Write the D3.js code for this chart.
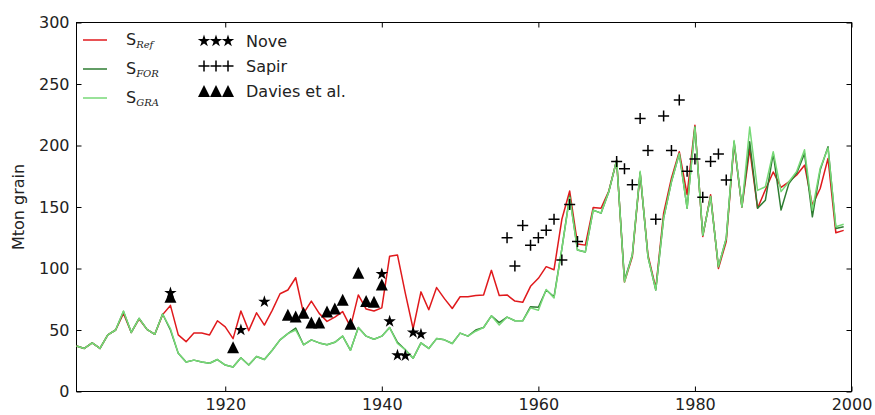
<!DOCTYPE html>
<html>
<head>
<meta charset="utf-8">
<script src="https://cdn.jsdelivr.net/npm/d3@7"></script>
<style>
  body { margin: 0; background: #fff; }
  svg text { font-family: "DejaVu Sans", sans-serif; }
</style>
</head>
<body>
<div id="chart"></div>
<script>
// data
var years = d3.range(1901, 2000);

var sRef = [37, 35, 39.5, 35, 46, 50, 63.5, 48, 59, 50.5, 46.5, 62.5, 70, 46, 40.5, 47.5, 47.5, 46, 57.5, 52.5,
  43, 65.5, 49.5, 64, 54, 66, 79.5, 82.5, 92.5, 63.5, 73.5, 63.5, 57, 60.5, 65, 52.5, 78.5, 67, 65.5, 68,
  110, 111, 80, 51, 81, 66.5, 84.5, 75.5, 67.5, 77, 77, 78, 78.5, 98.5, 78, 78.5, 73.5, 72.5, 85.5, 92,
  101.5, 99, 140, 163, 120, 119, 149.5, 149, 163, 188, 89, 109.5, 177.5, 111, 84, 145, 173.5, 195, 160, 216.5,
  126, 160, 100, 122, 202, 150, 197, 149, 164, 178.5, 166, 170.5, 176, 184, 151.5, 165, 189.5, 129, 131];

var sFor = [37, 35, 39.5, 35, 46, 50, 65, 48, 59.5, 50.5, 46.5, 63, 50, 31, 24, 25.5, 24, 23, 26, 21.5,
  20, 27.5, 21.5, 28.5, 26, 33.5, 42, 47, 51.5, 38, 42, 39.5, 38, 40, 45, 33.5, 52, 45, 42.5, 45,
  52, 40, 34, 27, 39.5, 35, 43, 42, 39, 47.5, 45, 50, 52, 61.5, 56, 60.5, 57.5, 57.5, 69, 68.5,
  82.5, 77, 116, 159, 115, 113.5, 147.5, 145, 162.5, 188, 90.5, 111, 178, 109.5, 82.5, 141, 170.5, 193.5, 149, 215,
  127, 158.5, 101.5, 124.5, 203, 150, 203, 149, 155.5, 193.5, 147.5, 169, 177.5, 193.5, 142, 180, 199, 132.5, 134];

var sGra = [37, 35, 39.5, 35, 46, 50, 65.5, 48, 59.5, 50.5, 46.5, 63, 51, 31, 24, 25.5, 24, 23, 26, 21.5,
  20, 27.5, 21.5, 28.5, 26, 33.5, 42, 47, 50, 38, 42, 39.5, 38, 40, 45, 33.5, 52, 45, 42.5, 45,
  52, 39, 34, 27, 39.5, 35, 43, 42, 39, 47.5, 45, 49, 52, 61.5, 54, 60.5, 57.5, 57.5, 68, 66,
  83, 76, 116, 158, 115, 113.5, 147.5, 145, 162.5, 188, 89, 111, 179, 109.5, 82.5, 141, 170.5, 193.5, 149, 215,
  127, 158.5, 101.5, 124.5, 204, 150, 215, 163.5, 166.5, 195, 162.5, 170.5, 179, 196.5, 147.5, 181.5, 198, 134, 136];

var noveYears = [1913, 1922, 1925, 1940, 1941, 1942, 1943, 1944, 1945];
var noveVals = [80, 50, 73, 95.5, 57, 29.5, 29, 48, 46.5];

var sapirYears = [1956, 1957, 1958, 1959, 1960, 1961, 1962, 1963, 1964, 1965,
  1970, 1971, 1972, 1973, 1974, 1975, 1976, 1977, 1978, 1979, 1980, 1981, 1982, 1983, 1984];
var sapirVals = [125, 102, 135, 119, 125, 131, 140, 107, 152, 122,
  187, 181, 168, 222, 196, 140, 224, 196, 237, 179, 189, 158, 187, 193, 172];

var daviesYears = [1913, 1921, 1928, 1929, 1930, 1931, 1932, 1933, 1934, 1935, 1936, 1937, 1938, 1939, 1940];
var daviesVals = [77, 36, 62.5, 61, 64, 56, 56, 65, 67.5, 74.5, 55, 96.5, 73.5, 73, 87];

var xTicks = [1920, 1940, 1960, 1980, 2000];
var yTicks = [0, 50, 100, 150, 200, 250, 300];

var width = 875, height = 415;
var margin = {top: 22.5, right: 23.5, bottom: 23.5, left: 76.5};

var svg = d3.select("#chart")
  .append("svg")
  .attr("width", width)
  .attr("height", height);

var xScale = d3.scaleLinear()
  .domain([1901, 2000])
  .range([margin.left, width - margin.right]);

var yScale = d3.scaleLinear()
  .domain([0, 300])
  .range([height - margin.bottom, margin.top]);

var x0 = margin.left, x1 = width - margin.right;
var y0 = height - margin.bottom, y1 = margin.top;

// inward ticks on all four sides (classic matplotlib look)
svg.append("g")
  .attr("transform", `translate(0,${y0})`)
  .call(d3.axisBottom(xScale).tickValues(xTicks).tickFormat(d3.format("d")).tickSizeInner(-5).tickSizeOuter(0).tickPadding(7))
  .call(g => g.select(".domain").remove())
  .selectAll("text").attr("font-size", "16px").attr("fill", "#222");

svg.append("g")
  .attr("transform", `translate(0,${y1})`)
  .call(d3.axisTop(xScale).tickValues(xTicks).tickFormat("").tickSizeInner(-5).tickSizeOuter(0))
  .call(g => g.select(".domain").remove());

svg.append("g")
  .attr("transform", `translate(${x0},0)`)
  .call(d3.axisLeft(yScale).tickValues(yTicks).tickSizeInner(-5).tickSizeOuter(0).tickPadding(7))
  .call(g => g.select(".domain").remove())
  .selectAll("text").attr("font-size", "16px").attr("fill", "#222");

svg.append("g")
  .attr("transform", `translate(${x1},0)`)
  .call(d3.axisRight(yScale).tickValues(yTicks).tickFormat("").tickSizeInner(-5).tickSizeOuter(0))
  .call(g => g.select(".domain").remove());

svg.append("rect")
  .attr("x", x0).attr("y", y1)
  .attr("width", x1 - x0).attr("height", y0 - y1)
  .attr("fill", "none").attr("stroke", "#000").attr("stroke-width", 1);

svg.append("text")
  .attr("transform", `translate(24,${(y0 + y1) / 2}) rotate(-90)`)
  .attr("text-anchor", "middle")
  .attr("font-size", "16px")
  .attr("fill", "#222")
  .text("Mton grain");

// lines
var line = d3.line()
  .x((d, i) => xScale(years[i]))
  .y(d => yScale(d));

var series = [
  {name: "Ref", vals: sRef, color: "#e0191c"},
  {name: "FOR", vals: sFor, color: "#2e7d32"},
  {name: "GRA", vals: sGra, color: "#77d977"}
];

svg.selectAll("path.series")
  .data(series)
  .enter()
  .append("path")
  .attr("class", "series")
  .attr("d", d => line(d.vals))
  .attr("fill", "none")
  .attr("stroke", d => d.color)
  .attr("stroke-width", 1.5)
  .attr("stroke-linejoin", "round");

// marker shapes
var star = d3.symbol().type(d3.symbolStar).size(48);
function tri(r) {
  return `M0,${-r}L${r},${r}L${-r},${r}Z`;
}
function plus(r) {
  return `M${-r},0H${r}M0,${-r}V${r}`;
}

svg.selectAll("path.nove")
  .data(noveYears)
  .enter()
  .append("path")
  .attr("class", "nove")
  .attr("transform", (d, i) => `translate(${xScale(d)},${yScale(noveVals[i])})`)
  .attr("d", star())
  .attr("fill", "#000");

svg.selectAll("path.davies")
  .data(daviesYears)
  .enter()
  .append("path")
  .attr("class", "davies")
  .attr("transform", (d, i) => `translate(${xScale(d)},${yScale(daviesVals[i])})`)
  .attr("d", tri(6))
  .attr("fill", "#000");

svg.selectAll("path.sapir")
  .data(sapirYears)
  .enter()
  .append("path")
  .attr("class", "sapir")
  .attr("transform", (d, i) => `translate(${xScale(d)},${yScale(sapirVals[i])})`)
  .attr("d", plus(5.5))
  .attr("stroke", "#000")
  .attr("stroke-width", 1.5)
  .attr("fill", "none");

// legend, first column (lines)
var leg1 = svg.append("g");
series.forEach((s, i) => {
  var yy = 40 + i * 29;
  leg1.append("line")
    .attr("x1", 83).attr("x2", 107)
    .attr("y1", yy).attr("y2", yy)
    .attr("stroke", s.color).attr("stroke-width", 1.5);
  var t = leg1.append("text")
    .attr("x", 126).attr("y", yy + 5)
    .attr("font-size", "16px")
    .attr("fill", "#222");
  t.append("tspan").text("S");
  t.append("tspan")
    .attr("dy", 3)
    .attr("font-family", "DejaVu Serif, serif")
    .attr("font-style", "italic")
    .attr("font-size", "10px")
    .text(s.name);
});

// legend, second column (markers)
var leg2 = svg.append("g");
var mk = [
  {label: "Nove", y: 41, kind: "star"},
  {label: "Sapir", y: 66, kind: "plus"},
  {label: "Davies et al.", y: 91, kind: "tri"}
];
mk.forEach(m => {
  [204, 216, 228].forEach(xx => {
    var p = leg2.append("path")
      .attr("transform", `translate(${xx},${m.y})`);
    if (m.kind == "star") p.attr("d", star()).attr("fill", "#000");
    if (m.kind == "tri") p.attr("d", tri(6)).attr("fill", "#000");
    if (m.kind == "plus") p.attr("d", plus(5.5)).attr("stroke", "#000").attr("stroke-width", 1.5).attr("fill", "none");
  });
  leg2.append("text")
    .attr("x", 246).attr("y", m.y + 6)
    .attr("font-size", "16px")
    .attr("fill", "#222")
    .text(m.label);
});
</script>
</body>
</html>
